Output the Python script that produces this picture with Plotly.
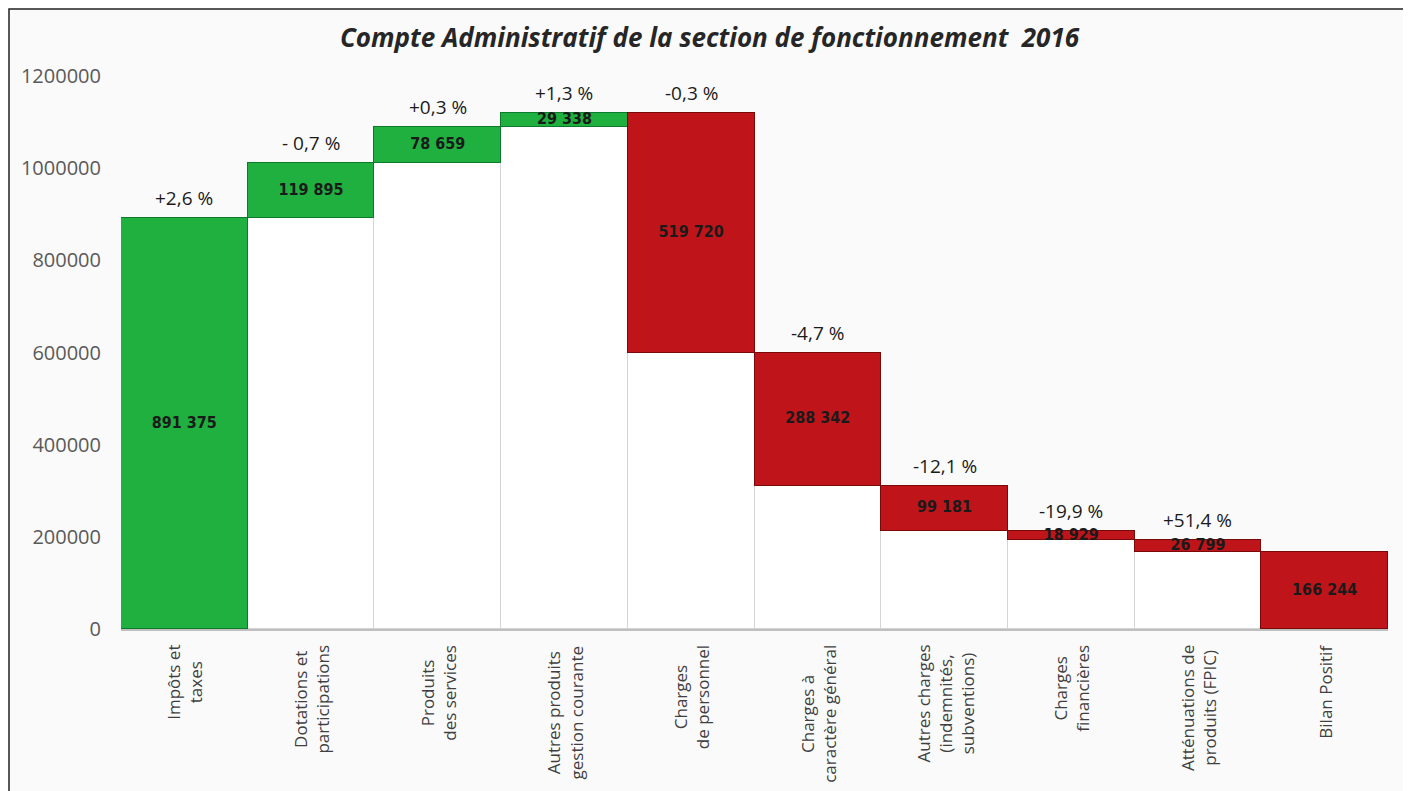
import plotly.graph_objects as go

categories = [
    "Impôts et<br>taxes",
    "Dotations et<br>participations",
    "Produits<br>des services",
    "Autres produits<br>gestion courante",
    "Charges<br>de personnel",
    "Charges à<br>caractère général",
    "Autres charges<br>(indemnités,<br>subventions)",
    "Charges<br>financières",
    "Atténuations de<br>produits (FPIC)",
    "Bilan Positif",
]
amounts = [891375, 119895, 78659, 29338, -519720, -288342, -99181, -18929, -26799]
total_label = 166244
pct_labels = ["+2,6 %", "- 0,7 %", "+0,3 %", "+1,3 %", "-0,3 %",
              "-4,7 %", "-12,1 %", "-19,9 %", "+51,4 %", ""]
y_ticks = [0, 200000, 400000, 600000, 800000, 1000000, 1200000]

# build waterfall pieces: invisible base + coloured delta
bases, heights, colors, lines = [], [], [], []
running = 0
for a in amounts:
    start, end = running, running + a
    bases.append(min(start, end))
    heights.append(abs(a))
    colors.append("#1fb03f" if a > 0 else "#bf151a")
    lines.append("#0d7a2b" if a > 0 else "#7a0a0a")
    running = end
bases.append(0)
heights.append(total_label)
colors.append("#bf151a")
lines.append("#7a0a0a")

tops = [b + h for b, h in zip(bases, heights)]
mids = [b + h / 2 for b, h in zip(bases, heights)]
values_txt = [f"{h:,}".replace(",", " ") for h in heights]

fig = go.Figure()
fig.add_trace(go.Bar(
    x=categories, y=bases,
    marker=dict(color="#ffffff", line=dict(color="#d4d4d4", width=1.5)),
    hoverinfo="skip", showlegend=False,
))
fig.add_trace(go.Bar(
    x=categories, y=heights,
    marker=dict(color=colors, line=dict(color=lines, width=1.5)),
    showlegend=False,
))
fig.add_trace(go.Scatter(
    x=categories, y=mids, mode="text",
    text=[f"<b>{t}</b>" for t in values_txt],
    textfont=dict(family="DejaVu Sans Condensed", size=16, color="#1a1a1a"),
    showlegend=False, hoverinfo="skip",
))

annotations = []
for cat, top, pct in zip(categories, tops, pct_labels):
    if pct:
        annotations.append(dict(
            x=cat, y=top, xref="x", yref="y", text=pct, showarrow=False,
            yanchor="middle", yshift=20,
            font=dict(family="Open Sans", size=19, color="#1a1a1a"),
        ))
    annotations.append(dict(
        x=cat, y=0, xref="x", yref="paper", text=cat, showarrow=False,
        textangle=-90, align="center", yanchor="top", yshift=-14,
        font=dict(family="Open Sans", size=17, color="#404040"),
    ))

# page body has an 8px offset, so the figure is a bit smaller than the window
W, H = 1403, 783
L, R, T, B = 113, 23, 68, 162
pw, ph = W - L - R, H - T - B

fig.update_layout(
    width=W, height=H,
    barmode="stack", bargap=0,
    paper_bgcolor="#fafafa", plot_bgcolor="#fafafa",
    margin=dict(l=L, r=R, t=T, b=B),
    title=dict(
        text="<b><i>Compte Administratif de la section de fonctionnement  2016</i></b>",
        x=0.5, xanchor="center", y=1 - 30 / H, yanchor="middle",
        font=dict(family="Open Sans", size=26, color="#262626"),
    ),
    xaxis=dict(
        showticklabels=False, showgrid=False, showline=True,
        linecolor="#bfbfbf", linewidth=1.5,
    ),
    yaxis=dict(
        range=[0, 1200000], tickvals=y_ticks, ticktext=[str(v) for v in y_ticks],
        showgrid=False, zeroline=False, showline=False,
        ticklabelstandoff=19,
        tickfont=dict(family="Open Sans", size=20, color="#595959"),
    ),
    annotations=annotations,
    shapes=[dict(
        type="rect", xref="paper", yref="paper",
        x0=-(L - 1) / pw, x1=1 + (R - 4) / pw,
        y0=-(B + 10) / ph, y1=1 + (T - 1) / ph,
        line=dict(color="#222222", width=1.5), fillcolor="rgba(0,0,0,0)",
    )],
)

fig.write_html("out.html")
